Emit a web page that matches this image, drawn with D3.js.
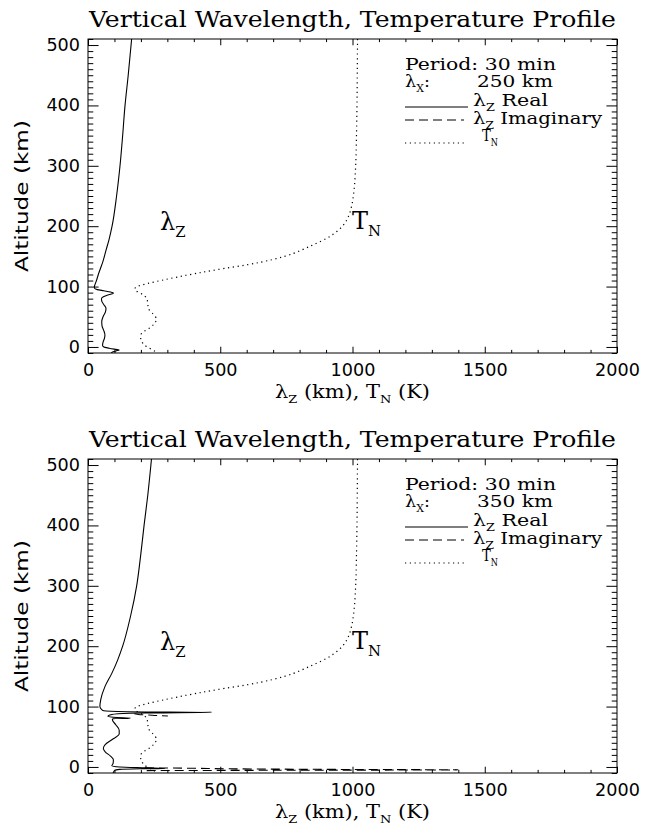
<!DOCTYPE html>
<html><head><meta charset="utf-8">
<script src="https://cdn.jsdelivr.net/npm/d3@7"></script>
<style>body{margin:0;background:#fff}</style>
</head><body><svg id="c" width="653" height="833"></svg>
<script>
const titleText = "Vertical Wavelength, Temperature Profile";
const xTicks = [0, 500, 1000, 1500, 2000];
const yTicks = [0, 100, 200, 300, 400, 500];
const periodMin = 30;
const lambdaX = [250, 350];

// [altitude km, temperature K]
const tempProfile = [[510,1019],[450,1018],[400,1017],[350,1015],[300,1012],[270,1008],[250,1003],[230,995],[220,988],[210,978],[200,962],[190,937],[180,903],[170,855],[160,805],[155,777],[150,742],[145,700],[136,600],[130,515],[122,411],[116,340],[111,285],[105,225],[102,200],[100,184],[97,178],[94,178],[90,195],[85,212],[81,222],[72,226],[64,228],[55,245],[45,260],[40,252],[34,241],[28,220],[23,203],[17,199],[12,200],[6,208],[0.5,222],[-5,245],[-10,262]];

// panel 1 (lambda_x = 250 km): [altitude km, lambda_z km]
const real1 = [[510,165],[450,152],[400,140],[350,131],[300,121],[250,108],[200,91],[177,79],[160,68],[141,56],[130,47],[120,39],[110,32],[104,27],[100,24],[97,25],[95,35],[93,60],[91,85],[89.5,96],[88,92],[86,75],[83,58],[80,51],[76,52],[70,60],[64,68],[58,66],[50,57],[42,52],[35,53],[28,59],[20,64],[14,62],[8,57],[3,55],[0,60],[-2,80],[-4,105],[-5,118],[-6,110],[-8,95],[-10,88]];
const imag1 = [];

// panel 2 (lambda_x = 350 km)
const real2 = [[510,240],[450,226],[400,212],[350,199],[300,184],[250,161],[200,131],[177,112],[155,90],[133,64],[111,48],[100,45],[95,52],[93,60],[91.5,150],[90.5,468],[89.5,250],[89,160],[87,90],[84,75],[82,110],[81,160],[80.5,150],[80,95],[78,92],[70,105],[61,118],[55,118],[45,90],[37,65],[31,58],[25,65],[18,85],[12,96],[6,95],[2,90],[0,120],[-1.5,220],[-2.5,291],[-3,200],[-4,120],[-6,100],[-10,95]];
const imag2a = [[88,175],[87,190],[86,230],[85,270],[84.5,302]];
const imag2b = [[-1.5,215],[-2,370],[-3,537],[-4,900],[-4.8,1400],[-5.5,700],[-6,215]];

const panels = [
  {off: 0, lx: lambdaX[0], real: real1, imag: [imag1]},
  {off: 420, lx: lambdaX[1], real: real2, imag: [imag2a, imag2b]}
];

const svg = d3.select("#c");
const serif = "DejaVu Serif, serif";
const sans = "DejaVu Sans, sans-serif";

function subText(g, x, y, parts, size, anchor, w) {
  const t = g.append("text").attr("x", x).attr("y", y)
    .attr("font-family", serif).attr("font-size", size).attr("fill", "#000")
    .attr("text-anchor", anchor || "start");
  if (w) t.attr("textLength", w).attr("lengthAdjust", "spacingAndGlyphs");
  let shift = 0;
  parts.forEach(p => {
    const sub = p.sub;
    const dy = sub ? size * 0.28 : -shift;
    t.append("tspan").attr("dy", dy).attr("font-size", sub ? size * 0.62 : size).text(p.t);
    shift = sub ? size * 0.28 : 0;
  });
  return t;
}

const solidW = 1.1, dotDash = "1.2,3.6", dashDash = "9,5";

panels.forEach((P, i) => {
  const g = svg.append("g").attr("transform", `translate(0,${P.off})`);
  const x = d3.scaleLinear().domain([0, 2000]).range([88, 617]);
  const y = d3.scaleLinear().domain([-10, 510]).range([353, 39]);
  const [x0, x1] = x.range();
  const [yb, yt] = y.range();
  const xMinor = d3.range(0, 2001, 100).filter(v => v % 500 !== 0);
  const yMinor = d3.range(-10, 511, 10).filter(v => v % 100 !== 0);
  const tlx = (yb - yt) * 0.02, tly = (x1 - x0) * 0.02;

  const styleAxis = sel => {
    sel.select(".domain").remove();
    sel.selectAll("line").attr("stroke", "#000").attr("stroke-width", 1);
    sel.selectAll("text").attr("font-family", sans).attr("font-size", 17).attr("fill", "#000")
      .attr("textLength", d => String(d).length * 11.2).attr("lengthAdjust", "spacingAndGlyphs");
  };

  g.append("g").attr("transform", `translate(0,${yb})`)
    .call(d3.axisBottom(x).tickValues(xTicks).tickSize(-tlx).tickPadding(0).tickFormat(d3.format("d")))
    .call(styleAxis).selectAll("text").attr("y", 23).attr("dy", 0);
  g.append("g").attr("transform", `translate(0,${yb})`)
    .call(d3.axisBottom(x).tickValues(xMinor).tickSize(-tlx / 2).tickFormat("")).call(styleAxis);
  g.append("g").attr("transform", `translate(0,${yt})`)
    .call(d3.axisTop(x).tickValues(xTicks).tickSize(-tlx).tickFormat("")).call(styleAxis);
  g.append("g").attr("transform", `translate(0,${yt})`)
    .call(d3.axisTop(x).tickValues(xMinor).tickSize(-tlx / 2).tickFormat("")).call(styleAxis);
  g.append("g").attr("transform", `translate(${x0},0)`)
    .call(d3.axisLeft(y).tickValues(yTicks).tickSize(-tly).tickPadding(8).tickFormat(d3.format("d")))
    .call(styleAxis);
  g.append("g").attr("transform", `translate(${x0},0)`)
    .call(d3.axisLeft(y).tickValues(yMinor).tickSize(-tly / 2).tickFormat("")).call(styleAxis);
  g.append("g").attr("transform", `translate(${x1},0)`)
    .call(d3.axisRight(y).tickValues(yTicks).tickSize(-tly).tickFormat("")).call(styleAxis);
  g.append("g").attr("transform", `translate(${x1},0)`)
    .call(d3.axisRight(y).tickValues(yMinor).tickSize(-tly / 2).tickFormat("")).call(styleAxis);
  g.selectAll("text").filter(function () { return this.textContent === ""; }).remove();

  g.append("rect").attr("x", x0).attr("y", yt).attr("width", x1 - x0).attr("height", yb - yt)
    .attr("fill", "none").attr("stroke", "#000").attr("stroke-width", 1);

  const cid = "clip" + i;
  g.append("clipPath").attr("id", cid).append("rect")
    .attr("x", x0).attr("y", yt).attr("width", x1 - x0).attr("height", yb - yt);
  const line = d3.line().x(d => x(d[1])).y(d => y(d[0])).curve(d3.curveMonotoneY);
  const cg = g.append("g").attr("clip-path", `url(#${cid})`);
  cg.append("path").datum(tempProfile).attr("d", line).attr("fill", "none")
    .attr("stroke", "#000").attr("stroke-width", 1.2).attr("stroke-dasharray", dotDash);
  cg.append("path").datum(P.real).attr("d", line).attr("fill", "none")
    .attr("stroke", "#000").attr("stroke-width", solidW);
  P.imag.filter(s => s.length).forEach(s => {
    cg.append("path").datum(s).attr("d", line).attr("fill", "none")
      .attr("stroke", "#000").attr("stroke-width", solidW).attr("stroke-dasharray", dashDash);
  });

  // title
  subText(g, (x0 + x1) / 2, 27, [{t: titleText}], 23, "middle", 527);
  // axis titles
  subText(g, (x0 + x1) / 2, 398, [{t: "λ"}, {t: "Z", sub: 1}, {t: " (km), T"}, {t: "N", sub: 1}, {t: " (K)"}], 18, "middle", 155);
  g.append("text").attr("transform", `translate(28,${(yb + yt) / 2}) rotate(-90)`)
    .attr("text-anchor", "middle").attr("font-family", sans).attr("font-size", 17).attr("fill", "#000")
    .attr("textLength", 152).attr("lengthAdjust", "spacingAndGlyphs")
    .text("Altitude (km)");

  // curve labels
  subText(g, 160, 230, [{t: "λ"}, {t: "Z", sub: 1}], 24);
  subText(g, 352, 229, [{t: "T"}, {t: "N", sub: 1}], 24);

  // legend
  const lx = 405;
  subText(g, lx, 70, [{t: `Period: ${periodMin} min`}], 17, "start", 151);
  subText(g, lx, 87, [{t: "λ"}, {t: "X", sub: 1}, {t: ":"}], 17, "start", 25);
  subText(g, 477, 87, [{t: `${P.lx} km`}], 17, "start", 76);
  g.append("line").attr("x1", lx).attr("x2", 468).attr("y1", 107).attr("y2", 107)
    .attr("stroke", "#000").attr("stroke-width", solidW);
  subText(g, 473, 106, [{t: "λ"}, {t: "Z", sub: 1}, {t: " Real"}], 17, "start", 75);
  g.append("line").attr("x1", lx).attr("x2", 464).attr("y1", 120).attr("y2", 120)
    .attr("stroke", "#000").attr("stroke-width", solidW).attr("stroke-dasharray", dashDash);
  subText(g, 473, 124, [{t: "λ"}, {t: "Z", sub: 1}, {t: " Imaginary"}], 17, "start", 129);
  g.append("line").attr("x1", lx).attr("x2", 467).attr("y1", 143).attr("y2", 143)
    .attr("stroke", "#000").attr("stroke-width", 1.2).attr("stroke-dasharray", dotDash);
  subText(g, 482, 141, [{t: "T"}, {t: "N", sub: 1}], 17, "start", 16);
});
</script></body></html>
